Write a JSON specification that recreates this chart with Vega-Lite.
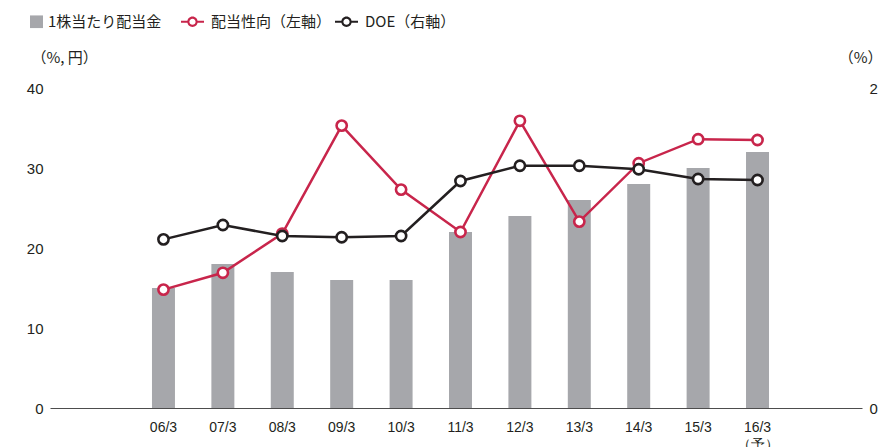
{
  "$schema": "https://vega.github.io/schema/vega-lite/v6.json",
  "width": 812,
  "height": 320,
  "autosize": {"type": "none"},
  "padding": {"left": 50, "top": 88, "right": 20, "bottom": 39},
  "background": "white",
  "config": {
    "view": {"stroke": null},
    "axis": {
      "grid": false,
      "ticks": false,
      "domain": false,
      "labelFont": "Liberation Sans",
      "labelColor": "#231f20",
      "labelFontSize": 15,
      "titleFont": "Noto Sans CJK JP",
      "titleFontWeight": "normal",
      "titleColor": "#231f20",
      "titleFontSize": 15
    }
  },
  "data": {
    "values": [
      {"year": "06/3", "dividend": 15, "payout": 14.8, "doe": 1.054},
      {"year": "07/3", "dividend": 18, "payout": 16.9, "doe": 1.144},
      {"year": "08/3", "dividend": 17, "payout": 21.8, "doe": 1.075},
      {"year": "09/3", "dividend": 16, "payout": 35.3, "doe": 1.067},
      {"year": "10/3", "dividend": 16, "payout": 27.3, "doe": 1.075},
      {"year": "11/3", "dividend": 22, "payout": 22.0, "doe": 1.419},
      {"year": "12/3", "dividend": 24, "payout": 35.9, "doe": 1.514},
      {"year": "13/3", "dividend": 26, "payout": 23.3, "doe": 1.514},
      {"year": "14/3", "dividend": 28, "payout": 30.6, "doe": 1.492},
      {"year": "15/3", "dividend": 30, "payout": 33.6, "doe": 1.431},
      {"year": "16/3", "dividend": 32, "payout": 33.5, "doe": 1.425}
    ]
  },
  "encoding": {
    "x": {
      "field": "year",
      "type": "nominal",
      "sort": null,
      "scale": {
        "type": "band",
        "domain": ["_a", "06/3", "07/3", "08/3", "09/3", "10/3", "11/3", "12/3", "13/3", "14/3", "15/3", "16/3", "_b"],
        "paddingInner": 0.613,
        "paddingOuter": 0.641,
        "align": 0.559
      },
      "axis": {
        "title": null,
        "domain": true,
        "domainColor": "#4d4d4d",
        "domainWidth": 1,
        "labelAngle": 0,
        "labelPadding": 12,
        "labelFontSize": 14,
        "labelLineHeight": 17,
        "labelExpr": "datum.value === '16/3' ? ['16/3', '（予）'] : (indexof(datum.value, '_') === 0 ? '' : datum.value)"
      }
    }
  },
  "layer": [
    {
      "layer": [
        {
          "mark": {"type": "bar", "opacity": 1},
          "encoding": {
            "y": {
              "field": "dividend",
              "type": "quantitative",
              "scale": {"domain": [0, 40]},
              "axis": {"orient": "left", "title": "（%, 円）", "titleAngle": 0, "titleAlign": "left", "titleBaseline": "middle", "titleX": -19, "titleY": -30.5, "labelPadding": 7, "values": [0, 10, 20, 30, 40]}
            },
            "color": {
              "datum": "1株当たり配当金",
              "scale": {
                "domain": ["1株当たり配当金", "配当性向（左軸）", "DOE（右軸）"],
                "range": ["#a6a7ab", "#c8254b", "#231f20"]
              },
              "legend": {
                "orient": "none",
                "legendX": -23,
                "legendY": -78,
                "direction": "horizontal",
                "columns": 3,
                "gridAlign": "all",
                "title": null,
                "padding": 0,
                "symbolSize": 529,
                "symbolStrokeWidth": 0,
                "labelFont": "Noto Sans CJK JP",
                "labelFontSize": 15,
                "labelColor": "#231f20",
                "labelOffset": 7,
                "columnPadding": 3,
                "encoding": {
                  "symbols": {
                    "shape": {"value": {"expr": "datum.value === '1株当たり配当金' ? 'M-0.74,-0.55H0.39V0.55H-0.74Z' : 'M-0.45,0A0.45,0.45 0 1,1 0.45,0A0.45,0.45 0 1,1 -0.45,0ZM-0.27,0A0.27,0.27 0 1,0 0.27,0A0.27,0.27 0 1,0 -0.27,0ZM-1,-0.095H-0.44V0.095H-1ZM0.44,-0.095H1V0.095H0.44Z'"}},
                    "opacity": {"value": 1},
                    "fillOpacity": {"value": 1}
                  },
                  "labels": {
                    "dx": {"value": {"expr": "datum.value === '1株当たり配当金' ? -9 : 0"}}
                  }
                }
              }
            }
          }
        },
        {
          "mark": {"type": "line", "strokeWidth": 2.5},
          "encoding": {
            "y": {
              "field": "payout",
              "type": "quantitative",
              "axis": {"orient": "left", "title": "（%, 円）", "titleAngle": 0, "titleAlign": "left", "titleBaseline": "middle", "titleX": -19, "titleY": -30.5, "labelPadding": 7, "values": [0, 10, 20, 30, 40]}
            },
            "color": {"datum": "配当性向（左軸）"}
          }
        },
        {
          "mark": {"type": "circle", "fill": "#ffffff", "stroke": "#c8254b", "strokeWidth": 2.6, "size": 105, "opacity": 1, "fillOpacity": 1},
          "encoding": {
            "y": {
              "field": "payout",
              "type": "quantitative",
              "axis": {"orient": "left", "title": "（%, 円）", "titleAngle": 0, "titleAlign": "left", "titleBaseline": "middle", "titleX": -19, "titleY": -30.5, "labelPadding": 7, "values": [0, 10, 20, 30, 40]}
            }
          }
        }
      ]
    },
    {
      "layer": [
        {
          "mark": {"type": "line", "strokeWidth": 2.5},
          "encoding": {
            "y": {
              "field": "doe",
              "type": "quantitative",
              "scale": {"domain": [0, 2]},
              "axis": {"orient": "right", "title": "（%）", "titleAngle": 0, "titleAlign": "right", "titleBaseline": "middle", "titleX": 20, "titleY": -30.5, "labelPadding": 7, "values": [0, 1, 2], "format": "d"}
            },
            "color": {"datum": "DOE（右軸）"}
          }
        },
        {
          "mark": {"type": "circle", "fill": "#ffffff", "stroke": "#231f20", "strokeWidth": 2.6, "size": 105, "opacity": 1, "fillOpacity": 1},
          "encoding": {
            "y": {
              "field": "doe",
              "type": "quantitative",
              "scale": {"domain": [0, 2]},
              "axis": {"orient": "right", "title": "（%）", "titleAngle": 0, "titleAlign": "right", "titleBaseline": "middle", "titleX": 20, "titleY": -30.5, "labelPadding": 7, "values": [0, 1, 2], "format": "d"}
            }
          }
        }
      ]
    }
  ],
  "resolve": {"scale": {"y": "independent"}}
}
